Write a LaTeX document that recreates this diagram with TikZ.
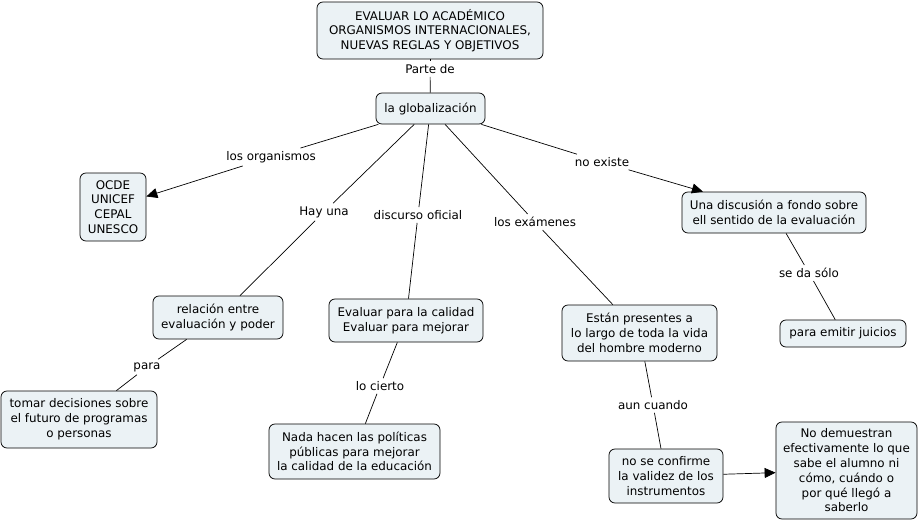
\documentclass[tikz,border=0pt]{standalone}
\usepackage{fontspec}
\setmainfont{DejaVu Sans}
\usetikzlibrary{arrows.meta}
\definecolor{boxfill}{RGB}{235,242,245}
\begin{document}
\begin{tikzpicture}[x=1pt,y=-1pt,
  every node/.style={font=\fontsize{11.9}{14.8}\selectfont},
  concept/.style={draw=black, fill=boxfill, rounded corners=6pt, align=center, inner sep=2pt, line width=0.75pt},
  lbl/.style={inner sep=3pt, align=center},
  link/.style={draw=black, line width=0.7pt},
  arr/.style={link, -{Triangle[length=11pt,width=10pt]}}
]
\useasboundingbox (0,0) rectangle (920,522);
% concepts
\node[concept, minimum width=226pt, minimum height=57pt] (top) at (430,30.5) {EVALUAR LO ACADÉMICO\\ORGANISMOS INTERNACIONALES,\\NUEVAS REGLAS Y OBJETIVOS};
\node[concept, minimum width=109pt, minimum height=31pt] (glob) at (430.5,108.5) {la globalización};
\node[concept, minimum width=66pt, minimum height=68pt] (ocde) at (113,207) {OCDE\\UNICEF\\CEPAL\\UNESCO};
\node[concept, minimum width=184pt, minimum height=41pt] (disc) at (774,212.5) {Una discusión a fondo sobre\\ell sentido de la evaluación};
\node[concept, minimum width=130pt, minimum height=43pt] (rel) at (218,317.5) {relación entre\\evaluación y poder};
\node[concept, minimum width=154pt, minimum height=43pt] (eval) at (406,320.5) {Evaluar para la calidad\\Evaluar para mejorar};
\node[concept, minimum width=155pt, minimum height=56pt] (estan) at (639.5,333) {Están presentes a\\lo largo de toda la vida\\del hombre moderno};
\node[concept, minimum width=126pt, minimum height=27pt] (emit) at (843,333.5) {para emitir juicios};
\node[concept, minimum width=156pt, minimum height=57pt] (tomar) at (79,419.5) {tomar decisiones sobre\\el futuro de programas\\o personas};
\node[concept, minimum width=171pt, minimum height=55pt] (nada) at (354.5,451.5) {Nada hacen las políticas\\públicas para mejorar\\la calidad de la educación};
\node[concept, minimum width=114pt, minimum height=54pt] (conf) at (666,476) {no se confirme\\la validez de los\\instrumentos};
\node[concept, minimum width=141pt, minimum height=97pt] (demu) at (846.5,470.5) {No demuestran\\efectivamente lo que\\sabe el alumno ni\\cómo, cuándo o\\por qué llegó a\\saberlo};
% labels
\node[lbl] (lparte) at (430,69) {Parte de};
\node[lbl] (lorg) at (271,157) {los organismos};
\node[lbl] (lhay) at (324,212) {Hay una};
\node[lbl] (ldisc) at (418,215) {discurso oficial};
\node[lbl] (lexam) at (535,222) {los exámenes};
\node[lbl] (lno) at (602,162) {no existe};
\node[lbl] (lse) at (809,273) {se da sólo};
\node[lbl] (lpara) at (147,367) {para};
\node[lbl] (lcierto) at (380,386) {lo cierto};
\node[lbl] (laun) at (653,405) {aun cuando};
% connectors
\draw[link] (top) -- (lparte);
\draw[link] (lparte) -- (glob);
\draw[link] (glob) -- (lorg);
\draw[arr] (lorg) -- (ocde);
\draw[link] (glob) -- (lhay);
\draw[link] (lhay) -- (rel);
\draw[link] (glob) -- (ldisc);
\draw[link] (ldisc) -- (eval);
\draw[link] (glob) -- (lexam);
\draw[link] (lexam) -- (estan);
\draw[link] (glob) -- (lno);
\draw[arr] (lno) -- (disc);
\draw[link] (disc) -- (lse);
\draw[link] (lse) -- (emit);
\draw[link] (rel) -- (lpara);
\draw[link] (lpara) -- (tomar);
\draw[link] (eval) -- (lcierto);
\draw[link] (lcierto) -- (nada);
\draw[link] (estan) -- (laun);
\draw[link] (laun) -- (conf);
\draw[arr] (conf) -- (demu);
\end{tikzpicture}
\end{document}
